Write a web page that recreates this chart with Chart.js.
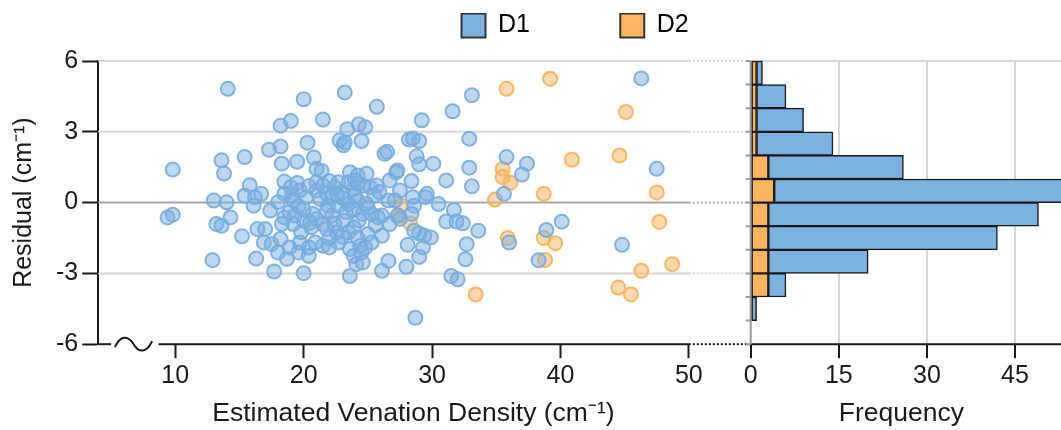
<!DOCTYPE html>
<html lang="en">
<head>
<meta charset="UTF-8">
<title>Residual vs venation density</title>
<style>
  body { margin: 0; background: #fff; }
</style>
</head>
<body>
<canvas id="grafica" width="1061" height="430"></canvas>

<script src="https://cdn.jsdelivr.net/npm/chart.js"></script>
<script>
// scatter points: [estimated venation density, residual]
const d1Points = [
  [9.8, 1.4], [9.4, -0.63], [9.8, -0.51], [13.0, 0.09], [14.0, 0.01], [13.6, 1.79], [13.8, 1.23], [13.2, -0.91], [13.6, -0.98], [12.9, -2.44],
  [14.1, 4.82], [15.4, 1.93], [15.8, 0.74], [15.4, 0.29], [16.2, 0.23], [16.7, 0.37], [16.1, -0.13], [14.3, -0.63], [15.2, -1.43], [16.4, -1.12],
  [17.0, -1.12], [16.9, -1.69], [17.5, -1.76], [16.3, -2.37], [17.7, -2.92], [20.0, -2.99], [17.3, 2.24], [18.2, 2.38], [18.3, 1.65], [19.5, 1.73],
  [18.2, 3.26], [19.0, 3.46], [20.0, 4.38], [21.5, 3.52], [20.3, 2.54], [20.8, 1.91], [21.0, 1.43], [21.4, 1.34], [18.5, 0.89], [19.5, 0.83],
  [23.2, 4.67], [25.7, 4.06], [23.4, 3.11], [24.3, 3.32], [24.8, 3.19], [22.8, 2.64], [23.1, 2.43], [24.5, 2.61], [26.3, 2.07], [28.2, 2.67],
  [29.0, 2.61], [28.8, 1.96], [29.0, 1.62], [29.2, 3.49], [27.3, 1.36], [27.2, 1.28], [26.7, 0.94], [28.4, 0.91], [27.5, 0.51], [26.6, 0.09],
  [28.5, 0.23], [31.6, 3.87], [33.1, 4.55], [46.3, 5.26], [32.9, 2.71], [30.1, 1.65], [32.9, 1.48], [35.8, 1.93], [37.4, 1.65], [37.0, 1.19],
  [47.5, 1.43], [35.6, 0.37], [31.1, 0.94], [33.1, 0.69], [29.6, 0.37], [29.5, 0.23], [28.6, -0.13], [30.5, -0.06], [31.7, -0.31], [40.1, -0.81],
  [31.1, -0.8], [31.9, -0.8], [32.4, -0.88], [33.6, -1.19], [32.7, -1.76], [32.6, -2.4], [31.5, -3.11], [32.0, -3.25], [28.7, -4.88], [29.0, -1.31],
  [29.4, -1.4], [29.9, -1.48], [29.3, -1.9], [29.0, -2.3], [28.1, -1.79], [28.0, -2.72], [26.6, -2.47], [26.1, -2.89], [26.1, -1.4], [26.1, -0.55],
  [26.7, -0.91], [27.3, -0.55], [36.0, -1.69], [38.9, -1.16], [38.3, -2.44], [44.8, -1.79], [23.6, -3.11], [24.1, -2.61], [25.3, -0.48], [25.8, -0.63],
  [27.1, 0.09], [18.5, 0.37], [19.1, 0.3], [19.7, 0.51], [20.2, 0.23], [21.0, 0.51], [21.8, 0.37], [22.4, 0.65], [23.0, 0.44], [23.9, 0.58],
  [24.6, 0.72], [25.2, 0.65], [21.0, 0.86], [21.5, 0.72], [23.6, 1.29], [24.2, 1.15], [24.9, 1.22], [22.7, 0.86], [23.5, 0.86], [24.2, 0.8],
  [25.7, 0.72], [22.2, 0.26], [24.0, 0.3], [25.5, 0.3], [18.5, -0.63], [19.2, -0.91], [20.0, -0.77], [20.7, -0.48], [21.5, -0.91], [23.1, -0.77],
  [23.9, -1.05], [24.6, -0.48], [21.9, -0.13], [22.7, -0.13], [23.5, -0.06], [24.2, 0.09], [24.9, -0.06], [22.2, -0.55], [19.3, -0.55], [20.6, -1.05],
  [19.8, -1.26], [18.3, -0.91], [21.8, -1.12], [22.6, -1.26], [23.5, -1.26], [25.0, -1.33], [24.2, -1.49], [19.2, 0.09], [18.0, 0.02], [17.4, -0.34],
  [18.2, -1.54], [18.9, -1.9], [19.7, -1.69], [20.4, -1.9], [20.9, -1.69], [21.5, -1.83], [18.0, -2.11], [19.6, -2.11], [22.0, -1.9], [22.7, -1.69],
  [23.6, -1.97], [24.4, -1.83], [25.3, -1.69], [23.9, -2.26], [24.5, -2.11], [24.6, -2.54], [20.4, -2.26], [18.7, -2.38], [27.5, -0.69], [28.6, -1.19],
  [28.4, -0.48], [23.2, 2.55], [28.5, 2.72], [26.5, 2.15], [20.4, 0.7], [22.0, 0.92], [23.0, 0.2], [24.0, 0.95], [25.9, 0.45], [19.0, 0.65],
  [21.3, 0.15], [22.6, 0.35], [20.0, -0.3], [21.0, -0.7], [22.4, -0.9], [23.3, -0.4], [24.3, -0.75], [25.0, -0.2], [25.6, -0.95], [19.6, -0.15],
  [18.9, -0.4], [21.8, -0.35], [23.9, -0.3], [20.5, -0.85], [22.0, -1.5], [23.0, -1.45], [24.8, -1.9]
];
const d2Points = [
  [35.8, 4.82], [39.2, 5.25], [45.1, 3.84], [40.9, 1.82], [44.6, 2.0], [35.5, 1.43], [35.5, 1.08], [36.1, 0.84],
  [34.9, 0.13], [38.7, 0.37], [47.5, 0.43], [27.6, -0.13], [27.4, -0.55], [28.3, -0.87], [47.7, -0.82], [33.4, -3.89],
  [35.9, -1.5], [38.7, -1.5], [39.6, -1.72], [38.8, -2.43], [48.7, -2.61], [46.3, -2.89], [44.5, -3.6], [45.5, -3.89]
];

// residual histogram, 1 cm-1 bins (lower edge of each bin)
const binLower = [5, 4, 3, 2, 1, 0, -1, -2, -3, -4, -5];
const d1Counts = [1, 5, 8, 13, 23, 50, 46, 39, 17, 3, 1];
const d2Counts = [1, 1, 1, 1, 3, 4, 3, 3, 3, 3, 0];

const densityTicks = [10, 20, 30, 40, 50];
const residualTicks = [-6, -3, 0, 3, 6];
const freqTicks = [0, 15, 30, 45];

const BLUE = '#7bb1df';
const ORANGE = '#fbb35e';
const INK = '#1a1a1a';
const titleFont = { size: 26.5 };

Chart.defaults.font.family = '"Liberation Sans", Arial, sans-serif';
Chart.defaults.font.size = 25;
Chart.defaults.color = INK;

// a bit of room between legend and plot
const legendGap = {
  id: 'legendGap',
  beforeInit(chart) {
    if (!chart.legend) return;
    const fit = chart.legend.fit;
    chart.legend.fit = function () {
      fit.call(this);
      this.height += 13;
    };
  }
};

// residual grid lines, broken x axis, histogram axes
const residualGrid = {
  id: 'residualGrid',
  beforeDatasetsDraw(chart) {
    const { ctx, chartArea, scales } = chart;
    const x = scales.x, x2 = scales.x2, y = scales.y;
    const lastDensity = x.getPixelForValue(densityTicks[densityTicks.length - 1]);
    const histStart = x2.getPixelForValue(0);
    const seg = (a, b, py) => {
      ctx.beginPath();
      ctx.moveTo(a, py);
      ctx.lineTo(b, py);
      ctx.stroke();
    };
    ctx.save();
    ctx.lineWidth = 2;
    residualTicks.forEach(v => {
      if (v === y.min) return;
      const py = y.getPixelForValue(v);
      ctx.strokeStyle = v === 0 ? '#a8a8a8' : '#d6d6d6';
      ctx.setLineDash([]);
      seg(chartArea.left, lastDensity, py);
      ctx.setLineDash([2, 2]);
      seg(lastDensity, histStart, py);
      if (v === y.max) {
        ctx.setLineDash([]);
        seg(histStart, chart.width, py);
      }
    });

    const by = chartArea.bottom;
    ctx.strokeStyle = INK;
    ctx.setLineDash([]);
    seg(chartArea.left, x.getPixelForValue(5), by);
    seg(x.getPixelForValue(8.7), lastDensity, by);
    seg(histStart - 1, chart.width, by);
    ctx.setLineDash([2, 2]);
    seg(lastDensity, histStart, by);

    // axis break mark
    const b0 = x.getPixelForValue(5.3);
    const w = x.getPixelForValue(8.2) - b0;
    ctx.setLineDash([]);
    ctx.beginPath();
    ctx.moveTo(b0, by + 3);
    ctx.bezierCurveTo(b0 + w * 0.15, by - 9, b0 + w * 0.35, by - 9, b0 + w * 0.5, by);
    ctx.bezierCurveTo(b0 + w * 0.65, by + 9, b0 + w * 0.85, by + 9, b0 + w, by - 3);
    ctx.stroke();

    // histogram base line with a tick at every bin edge
    ctx.strokeStyle = '#9a9a9a';
    ctx.beginPath();
    ctx.moveTo(histStart, chartArea.top);
    ctx.lineTo(histStart, chartArea.bottom);
    for (let v = y.min; v <= y.max; v++) {
      const py = y.getPixelForValue(v);
      ctx.moveTo(histStart, py);
      ctx.lineTo(histStart - 5, py);
    }
    ctx.stroke();
    ctx.restore();
  }
};

const toXY = pts => pts.map(p => ({ x: p[0], y: p[1] }));
const toBars = counts => binLower.map((b, i) => ({ y: b + 0.5, x: counts[i] }));
const noSidePadding = s => { s.paddingLeft = 0; s.paddingRight = 0; };

const barStyle = {
  type: 'bar',
  indexAxis: 'y',
  xAxisID: 'x2',
  yAxisID: 'y',
  stack: 'freq',
  grouped: false,
  clip: false,
  borderColor: INK,
  borderWidth: 1.5,
  borderSkipped: false,
  barPercentage: 1,
  categoryPercentage: 1
};

new Chart(document.getElementById('grafica'), {
  type: 'scatter',
  data: {
    datasets: [
      {
        label: 'D1',
        data: toXY(d1Points),
        xAxisID: 'x', yAxisID: 'y',
        backgroundColor: 'rgba(124,176,224,0.5)',
        borderColor: 'rgba(118,172,224,0.9)',
        borderWidth: 2,
        pointRadius: 7
      },
      {
        label: 'D2',
        data: toXY(d2Points),
        xAxisID: 'x', yAxisID: 'y',
        backgroundColor: 'rgba(253,180,95,0.5)',
        borderColor: 'rgba(251,176,88,0.9)',
        borderWidth: 2,
        pointRadius: 7
      },
      Object.assign({ label: 'D2 frequency', data: toBars(d2Counts), backgroundColor: ORANGE }, barStyle),
      Object.assign({ label: 'D1 frequency', data: toBars(d1Counts), backgroundColor: BLUE }, barStyle)
    ]
  },
  options: {
    responsive: false,
    animation: false,
    events: [],
    layout: { padding: { left: 5, right: 0, top: 13, bottom: -2 } },
    plugins: {
      tooltip: { enabled: false },
      legend: {
        position: 'top',
        fullSize: false,
        labels: {
          boxWidth: 24,
          boxHeight: 24,
          padding: 0,
          color: INK,
          generateLabels: () => [
            { text: 'D1' + ' '.repeat(13), fillStyle: BLUE, strokeStyle: '#333', lineWidth: 2, hidden: false, datasetIndex: 0 },
            { text: 'D2', fillStyle: ORANGE, strokeStyle: '#333', lineWidth: 2, hidden: false, datasetIndex: 1 }
          ]
        }
      }
    },
    scales: {
      x: {
        type: 'linear',
        axis: 'x',
        position: 'bottom',
        stack: 'bottom',
        stackWeight: 654,
        min: 4.0,
        max: 54.82,
        afterBuildTicks: s => { s.ticks = densityTicks.map(v => ({ value: v })); },
        afterFit: noSidePadding,
        ticks: { padding: 3, color: INK, autoSkip: false, maxRotation: 0, minRotation: 0 },
        border: { display: false },
        grid: { drawOnChartArea: false, tickLength: 14, tickWidth: 2, tickColor: INK },
        title: { display: true, text: 'Estimated Venation Density (cm⁻¹)   ', color: INK, font: titleFont, padding: { top: 4, bottom: 2 } }
      },
      x2: {
        type: 'linear',
        axis: 'x',
        position: 'bottom',
        stack: 'bottom',
        stackWeight: 302,
        stacked: true,
        min: 0,
        max: 51.3,
        afterBuildTicks: s => { s.ticks = freqTicks.map(v => ({ value: v })); },
        afterFit: noSidePadding,
        ticks: { padding: 3, color: INK, autoSkip: false, maxRotation: 0, minRotation: 0 },
        border: { display: false },
        grid: {
          color: c => (c.tick && c.tick.value === 0 ? 'rgba(0,0,0,0)' : '#d6d6d6'),
          lineWidth: 2,
          tickLength: 14,
          tickWidth: 2,
          tickColor: INK
        },
        title: { display: true, text: 'Frequency', color: INK, font: titleFont, padding: { top: 4, bottom: 2 } }
      },
      y: {
        type: 'linear',
        position: 'left',
        offset: false,
        min: -6,
        max: 6,
        afterBuildTicks: s => { s.ticks = residualTicks.map(v => ({ value: v })); },
        ticks: { padding: 4, color: INK },
        border: { color: INK, width: 2 },
        grid: { offset: false, drawOnChartArea: false, tickLength: 16, tickWidth: 2, tickColor: INK },
        title: { display: true, text: 'Residual (cm⁻¹)', color: INK, font: { size: 25 }, padding: { top: 4, bottom: 13 } }
      }
    }
  },
  plugins: [legendGap, residualGrid]
});
</script>
</body>
</html>
